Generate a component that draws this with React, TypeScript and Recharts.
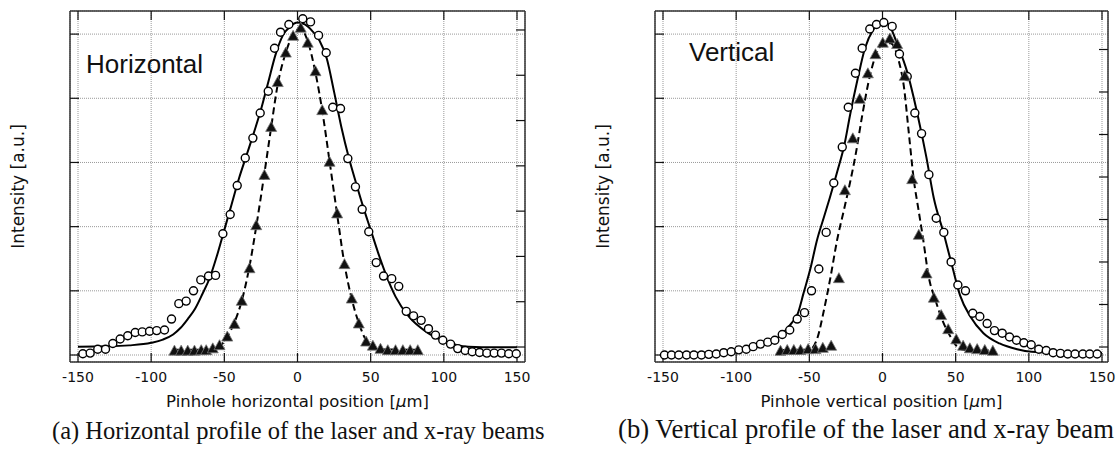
import { ComposedChart, Line, Scatter, XAxis, YAxis, CartesianGrid } from "recharts";

// ---- horizontal scan -------------------------------------------------------
// laser (open circles, left scale)
const hLaser = [
  [-146.7, 0.02], [-141.7, 0.03], [-136.5, 0.09], [-131.2, 0.09], [-126.2, 0.18],
  [-121.2, 0.25], [-116, 0.3], [-110.9, 0.35], [-106.1, 0.36], [-101.1, 0.37],
  [-96.2, 0.38], [-90.9, 0.39], [-86.1, 0.56], [-81.1, 0.8], [-76.1, 0.84],
  [-71.1, 1.0], [-66.1, 1.17], [-60.8, 1.23], [-56, 1.24], [-51, 1.89],
  [-46, 2.19], [-41.2, 2.64], [-35.7, 3.07], [-30.5, 3.38], [-25.5, 3.77],
  [-20, 4.11], [-15.7, 4.78], [-11.6, 5.03], [-5.9, 5.15], [3.6, 5.24],
  [8.9, 5.19], [14.4, 4.98], [19.6, 4.71], [24.1, 3.86], [29.4, 3.84],
  [34.4, 3.06], [39.6, 2.62], [44.2, 2.27], [48.7, 1.92], [53.8, 1.44],
  [58.8, 1.23], [64.4, 1.19], [69.2, 1.07], [74.3, 0.68], [79.3, 0.61],
  [84.5, 0.54], [89.5, 0.41], [94.3, 0.31], [99.3, 0.23], [104.6, 0.17],
  [109.5, 0.1], [114.6, 0.07], [119.4, 0.05], [124.4, 0.04], [129.4, 0.03],
  [134.4, 0.03], [139.4, 0.03], [144.4, 0.02], [149.5, 0.02],
];
const hLaserFit = [
  [-150, 0.13], [-130, 0.135], [-115, 0.15], [-100, 0.19], [-92, 0.24],
  [-85, 0.32], [-80, 0.42], [-75, 0.56], [-70, 0.72], [-65, 0.95],
  [-60, 1.2], [-55, 1.55], [-50, 1.95], [-45, 2.35], [-40, 2.75],
  [-35, 3.1], [-30, 3.45], [-25, 3.82], [-20, 4.25], [-15, 4.68],
  [-10, 4.98], [-5, 5.12], [0, 5.18], [5, 5.15], [10, 5.05],
  [15, 4.9], [20, 4.62], [25, 4.1], [30, 3.55], [35, 3.08],
  [40, 2.68], [45, 2.3], [50, 1.95], [55, 1.6], [60, 1.28],
  [67, 0.91], [76, 0.6], [88, 0.36], [100, 0.22], [117, 0.13],
  [135, 0.12], [150, 0.12],
];
// x-ray (filled triangles, right scale)
const hXray = [
  [-84.1, -0.08], [-79.5, -0.08], [-75, -0.08], [-70.4, -0.08], [-65.8, -0.07],
  [-62.4, -0.07], [-57.9, -0.03], [-53.3, 0.04], [-48, 0.23], [-43.1, 0.51],
  [-38.1, 1.02], [-32.8, 1.74], [-28.2, 2.69], [-22.6, 3.8], [-18, 4.86],
  [-13.5, 5.85], [-8, 6.5], [-3, 6.87], [2.2, 7.05], [7, 6.72],
  [12.3, 6.09], [16.9, 5.23], [21.9, 4.09], [27.1, 2.95], [32.1, 1.83],
  [37.1, 1.07], [41.9, 0.52], [46.9, 0.12], [51.5, 0.03], [56.7, -0.04],
  [61.7, -0.07], [67, -0.07], [72, -0.07], [77, -0.07], [82.2, -0.07],
];
const hXrayFit = [
  [-84, -0.06], [-60, -0.06], [-53, 0.02], [-48, 0.23], [-43, 0.55],
  [-38, 1.03], [-33, 1.75], [-28, 2.7], [-23, 3.75], [-18, 4.85],
  [-13.5, 5.8], [-8, 6.5], [-3, 6.9], [2, 7.03], [7, 6.75],
  [12, 6.1], [17, 5.2], [22, 4.08], [27, 2.95], [32, 1.85],
  [37, 1.07], [42, 0.52], [47, 0.14], [52, 0.0], [57, -0.05], [82, -0.06],
];

// ---- vertical scan ---------------------------------------------------------
const vLaser = [
  [-149, 0], [-144.2, 0], [-139.2, 0], [-133.9, 0], [-128.9, 0],
  [-123.7, 0], [-118.7, 0.01], [-113.6, 0.016], [-108.5, 0.036], [-103.4, 0.05],
  [-98.2, 0.08], [-93.1, 0.09], [-88.4, 0.13], [-83.4, 0.17], [-78.4, 0.2],
  [-73.6, 0.23], [-68.5, 0.32], [-63.4, 0.39], [-58.3, 0.56], [-53.3, 0.66],
  [-48.5, 1.0], [-43.5, 1.34], [-38.5, 1.91], [-33.3, 2.68], [-27.5, 3.24],
  [-23.4, 3.86], [-18.5, 4.39], [-13.9, 4.78], [-8.7, 5.08], [-4.1, 5.15],
  [0.9, 5.18], [6.6, 5.12], [11.6, 4.69], [16.9, 4.34], [22.1, 3.77],
  [26.7, 3.45], [31.7, 2.81], [36.7, 2.13], [41.9, 1.91], [46.9, 1.45],
  [51.5, 1.09], [56.7, 1.0], [61.7, 0.65], [66.5, 0.6], [71.5, 0.49],
  [76.5, 0.38], [81.8, 0.34], [86.8, 0.28], [91.6, 0.23], [96.6, 0.19],
  [101.6, 0.16], [106.8, 0.09], [111.9, 0.07], [116.6, 0.036], [121.6, 0.026],
  [126.6, 0.016], [131.6, 0.016], [136.9, 0.016], [141.6, 0.016], [146.7, 0.016],
];
const vLaserFit = [
  [-150, 0.03], [-120, 0.04], [-105, 0.05], [-92, 0.09], [-80, 0.17],
  [-70, 0.3], [-62, 0.5], [-58, 0.64], [-54, 0.96], [-49, 1.37],
  [-45, 1.77], [-40, 2.15], [-36, 2.45], [-31, 2.85], [-26, 3.28],
  [-22, 3.76], [-17, 4.3], [-12, 4.78], [-6, 5.08], [0, 5.2],
  [5, 5.12], [10, 4.85], [17, 4.4], [24, 3.74], [30, 3.08],
  [35, 2.45], [42, 1.88], [48, 1.35], [53, 0.93], [60, 0.6],
  [69, 0.34], [80, 0.18], [92, 0.09], [102, 0.05], [125, 0.03], [150, 0.03],
];
const vXray = [
  [-69.7, -0.09], [-65.1, -0.07], [-60.6, -0.07], [-56, -0.07], [-50.8, -0.05],
  [-45.8, -0.05], [-40.8, -0.02], [-35.1, 0.03], [-29.8, 1.62], [-25.7, 3.69],
  [-20.3, 4.91], [-15.6, 5.84], [-10, 6.44], [-4.8, 6.89], [0.2, 7.16],
  [5, 7.26], [10, 7.13], [15.2, 6.38], [20.3, 3.95], [24.8, 2.64],
  [30.1, 1.73], [35.1, 1.16], [40.1, 0.75], [44.9, 0.42], [50.4, 0.18],
  [55.1, 0.03], [59.7, -0.03], [64.7, -0.05], [69.9, -0.07], [75.4, -0.09],
];
const vXrayFit = [
  [-70, -0.07], [-50, -0.06], [-46.5, 0.05], [-44.6, 0.2], [-40, 0.87],
  [-35.5, 1.65], [-31, 2.52], [-26.4, 3.22], [-22, 3.9], [-18.5, 4.5],
  [-14, 5.42], [-8.2, 6.44], [-1.4, 7.07], [5.5, 7.15], [11, 6.75],
  [14.6, 6.13], [18, 5.03], [21.4, 3.93], [24.5, 3.25], [27.5, 2.6],
  [31.6, 1.65], [36.2, 1.1], [40.8, 0.64], [46.5, 0.24], [51, 0.01],
  [56, -0.07], [75, -0.08],
];

const xTicks = [-150, -100, -50, 0, 50, 100, 150];
const laserTicks = [0, 1, 2, 3, 4, 5];
const xrayTicks = [0, 1, 2, 3, 4, 5, 6, 7];

const SANS = "'DejaVu Sans', sans-serif";
const SERIF = "'Liberation Serif', 'Times New Roman', serif";
const FRAME = { stroke: "#333", strokeWidth: 1.5 };
const TICK_LINE = { stroke: "#111", strokeWidth: 1.2 };

const toPoints = (rows: number[][]) => rows.map(([x, y]) => ({ x, y }));

// tick marks only, no numbers
const NoLabel = () => <g />;

function OpenCircle(props: any) {
  const { cx, cy } = props;
  if (cx == null || cy == null) return null;
  return <circle cx={cx} cy={cy} r={4} fill="#fff" stroke="#000" strokeWidth={1.4} />;
}

function FilledTriangle(props: any) {
  const { cx, cy } = props;
  if (cx == null || cy == null) return null;
  return (
    <polygon
      points={`${cx},${cy - 5.5} ${cx + 5.5},${cy + 4.5} ${cx - 5.5},${cy + 4.5}`}
      fill="#111"
      stroke="#777"
      strokeWidth={0.8}
    />
  );
}

function XTitle({ viewBox, name }: any) {
  if (!viewBox) return null;
  const cx = viewBox.x + viewBox.width / 2;
  return (
    <text x={cx} y={viewBox.y + 45} textAnchor="middle" fontFamily={SANS} fontSize={16.5} fill="#111">
      Pinhole {name} position [<tspan fontStyle="italic">μ</tspan>m]
    </text>
  );
}

function YTitle({ viewBox }: any) {
  if (!viewBox) return null;
  const x = viewBox.x - 52;
  const y = viewBox.y + viewBox.height / 2;
  return (
    <text
      x={x}
      y={y}
      transform={`rotate(-90 ${x} ${y})`}
      textAnchor="middle"
      dominantBaseline="central"
      fontFamily={SANS}
      fontSize={17}
      fill="#111"
    >
      Intensity [a.u.]
    </text>
  );
}

type ProfileProps = {
  left: number;
  width: number;
  margin: { top: number; right: number; bottom: number; left: number };
  xDomain: [number, number];
  xrayDomain: [number, number];
  laser: number[][];
  laserFit: number[][];
  xray: number[][];
  xrayFit: number[][];
  axisName: string;
  tag: string;
  tagLeft: number;
  tagTop: number;
};

function Profile(p: ProfileProps) {
  return (
    <div style={{ position: "absolute", left: p.left, top: 0 }}>
      <ComposedChart width={p.width} height={420} margin={p.margin}>
        <CartesianGrid yAxisId="laser" stroke="#999" strokeDasharray="1 1" />
        <XAxis
          type="number"
          dataKey="x"
          domain={p.xDomain}
          ticks={xTicks}
          interval={0}
          allowDataOverflow
          height={58}
          tickSize={-9}
          tickMargin={19}
          tick={{ fontFamily: SANS, fontSize: 14, fill: "#111" }}
          axisLine={FRAME}
          tickLine={TICK_LINE}
          label={<XTitle name={p.axisName} />}
        />
        <XAxis
          xAxisId="top"
          orientation="top"
          mirror
          type="number"
          dataKey="x"
          domain={p.xDomain}
          ticks={xTicks}
          interval={0}
          allowDataOverflow
          tick={NoLabel}
          tickSize={9}
          axisLine={FRAME}
          tickLine={TICK_LINE}
        />
        <YAxis
          yAxisId="laser"
          mirror
          type="number"
          domain={[-0.109, 5.36]}
          ticks={laserTicks}
          interval={0}
          allowDataOverflow
          tick={NoLabel}
          tickSize={9}
          axisLine={FRAME}
          tickLine={TICK_LINE}
          label={<YTitle />}
        />
        <YAxis
          yAxisId="xray"
          orientation="right"
          mirror
          type="number"
          domain={p.xrayDomain}
          ticks={xrayTicks}
          interval={0}
          allowDataOverflow
          tick={NoLabel}
          tickSize={9}
          axisLine={FRAME}
          tickLine={TICK_LINE}
        />
        <Line
          yAxisId="laser"
          data={toPoints(p.laserFit)}
          dataKey="y"
          type="monotone"
          stroke="#000"
          strokeWidth={2}
          dot={false}
          activeDot={false}
          isAnimationActive={false}
        />
        <Scatter
          yAxisId="laser"
          data={toPoints(p.laser)}
          dataKey="y"
          shape={<OpenCircle />}
          isAnimationActive={false}
        />
        <Line
          yAxisId="xray"
          data={toPoints(p.xrayFit)}
          dataKey="y"
          type="monotone"
          stroke="#000"
          strokeWidth={2}
          strokeDasharray="7 4"
          dot={false}
          activeDot={false}
          isAnimationActive={false}
        />
        <Scatter
          yAxisId="xray"
          data={toPoints(p.xray)}
          dataKey="y"
          shape={<FilledTriangle />}
          isAnimationActive={false}
        />
      </ComposedChart>
      <div
        style={{
          position: "absolute",
          left: p.tagLeft,
          top: p.tagTop,
          fontFamily: "'Liberation Sans', Arial, sans-serif",
          fontSize: 26,
          lineHeight: 1,
          color: "#111",
          whiteSpace: "nowrap",
        }}
      >
        {p.tag}
      </div>
    </div>
  );
}

const captionStyle: React.CSSProperties = {
  position: "absolute",
  fontFamily: SERIF,
  lineHeight: 0.8,
  color: "#111",
  whiteSpace: "nowrap",
};

export default function App() {
  return (
    <div
      style={{
        position: "absolute",
        left: 0,
        top: 0,
        width: 1116,
        height: 454,
        overflow: "hidden",
        background: "#fff",
      }}
    >
      <Profile
        left={0}
        width={560}
        margin={{ top: 11, right: 35, bottom: 0, left: 70 }}
        xDomain={[-155.47, 155.47]}
        xrayDomain={[-0.331, 7.419]}
        laser={hLaser}
        laserFit={hLaserFit}
        xray={hXray}
        xrayFit={hXrayFit}
        axisName="horizontal"
        tag="Horizontal"
        tagLeft={86}
        tagTop={51}
      />
      <Profile
        left={560}
        width={556}
        margin={{ top: 11, right: 8, bottom: 0, left: 95 }}
        xDomain={[-155.47, 154.1]}
        xrayDomain={[-0.353, 7.906]}
        laser={vLaser}
        laserFit={vLaserFit}
        xray={vXray}
        xrayFit={vXrayFit}
        axisName="vertical"
        tag="Vertical"
        tagLeft={129}
        tagTop={39}
      />
      <div style={{ ...captionStyle, left: 52, top: 421, fontSize: 24.5 }}>
        (a) Horizontal profile of the laser and x-ray beams
      </div>
      <div style={{ ...captionStyle, left: 618, top: 419, fontSize: 26.7 }}>
        (b) Vertical profile of the laser and x-ray beam
      </div>
    </div>
  );
}
